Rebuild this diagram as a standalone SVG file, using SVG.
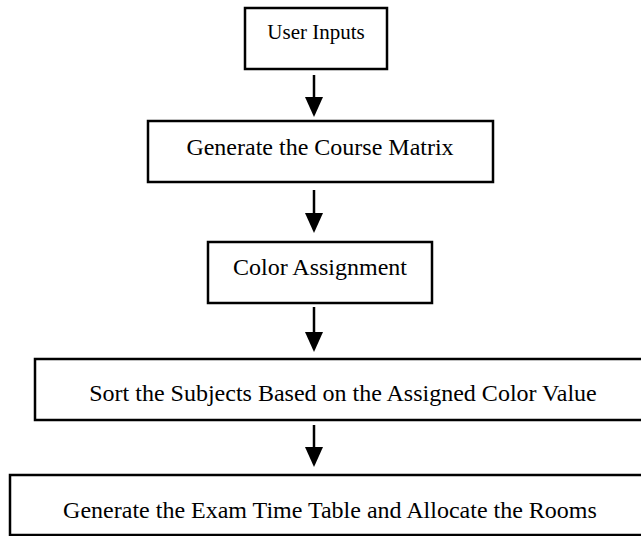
<svg xmlns="http://www.w3.org/2000/svg" width="641" height="536" viewBox="0 0 641 536">
<style>
.box{fill:#fff;stroke:#000;stroke-width:2.5}
.t{font-family:"Liberation Serif","Times New Roman",serif;font-size:24px;fill:#000;text-anchor:middle}
.arr line{stroke:#000;stroke-width:2.5}
.arr polygon{fill:#000}
</style>
<rect width="641" height="536" fill="#fff"/>
<g id="n1"><rect class="box" x="245" y="8" width="142" height="61"/><text class="t" x="316" y="39" style="font-size:21px">User Inputs</text></g>
<g id="n2"><rect class="box" x="148" y="121" width="345" height="61"/><text class="t" x="320" y="155">Generate the Course Matrix</text></g>
<g id="n3"><rect class="box" x="208" y="242" width="224" height="61"/><text class="t" x="320" y="275">Color Assignment</text></g>
<g id="n4"><rect class="box" x="35" y="359" width="620" height="61"/><text class="t" x="343" y="401">Sort the Subjects Based on the Assigned Color Value</text></g>
<g id="n5"><rect class="box" x="10" y="475" width="645" height="60"/><text class="t" x="330" y="518">Generate the Exam Time Table and Allocate the Rooms</text></g>
<g id="connectors" class="arr">
<line x1="314" y1="75" x2="314" y2="100"/><polygon points="305,97 323,97 314,117"/>
<line x1="314" y1="190" x2="314" y2="216"/><polygon points="305,213 323,213 314,233"/>
<line x1="314" y1="307" x2="314" y2="335"/><polygon points="305,332 323,332 314,352"/>
<line x1="314" y1="425" x2="314" y2="450"/><polygon points="305,447 323,447 314,467"/>
</g>
</svg>
